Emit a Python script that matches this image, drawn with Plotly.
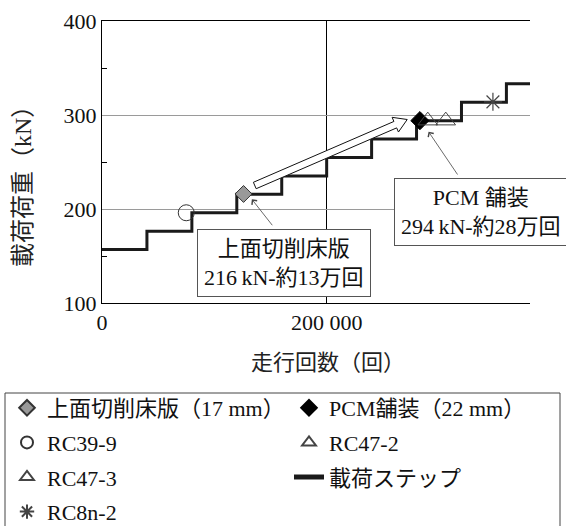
import math
import plotly.graph_objects as go

# Load steps (kN) and the pass count at which each step begins
step_start = [0, 40000, 80000, 120000, 160000, 200000, 240000, 280000, 320000, 360000]
step_load = [156.8, 176.4, 196.0, 215.6, 235.2, 254.8, 274.4, 294.0, 313.6, 333.2]
run_end = 381000

# Failure points (passes, load in kN)
cut_deck_x, cut_deck_y = [126000], [216]
pcm_x, pcm_y = [283000], [294]
rc39_x, rc39_y = [75000], [196]
rc47_2_x, rc47_2_y = [290000], [294]
rc47_3_x, rc47_3_y = [306000], [294]
rc8n_x, rc8n_y = [348000], [314]

x_tick_vals = [0, 200000]
x_tick_text = ["0", "200 000"]
y_tick_vals = [100, 200, 300, 400]
y_minor_vals = [150, 250, 350]

W, H = 566, 526
M = dict(l=102, r=36, t=21, b=223)
PW, PH = W - M["l"] - M["r"], H - M["t"] - M["b"]
x_range = [0, 381000]
y_range = [100, 400]
px_x = PW / (x_range[1] - x_range[0])
px_y = PH / (y_range[1] - y_range[0])


def paper_x(px):
    return (px - M["l"]) / PW


def paper_y(py):
    return (M["t"] + PH - py) / PH


SERIF = "Liberation Serif, Noto Sans CJK JP, serif"
FS = 22

fig = go.Figure()

# stepped load history
fig.add_trace(go.Scatter(
    x=step_start + [run_end], y=step_load + [step_load[-1]],
    mode="lines", line=dict(color="#1a1a1a", width=3, shape="hv"),
    name="載荷ステップ", legend="legend2", legendgroup="step", legendrank=3,
    hoverinfo="skip",
))

fig.add_trace(go.Scatter(
    x=cut_deck_x, y=cut_deck_y, mode="markers", name="上面切削床版（17 mm）",
    marker=dict(symbol="diamond", size=13, color="#999999", line=dict(color="#333333", width=1)),
    legend="legend", legendgroup="cut", legendrank=1,
))
fig.add_trace(go.Scatter(
    x=pcm_x, y=pcm_y, mode="markers", name="PCM舗装（22 mm）",
    marker=dict(symbol="diamond", size=14, color="#000000", line=dict(color="#000000", width=1)),
    legend="legend2", legendgroup="pcm", legendrank=1,
))
fig.add_trace(go.Scatter(
    x=rc39_x, y=rc39_y, mode="markers", name="RC39-9",
    marker=dict(symbol="circle-open", size=16, color="#333333", line=dict(width=1)),
    legend="legend", legendgroup="rc39", legendrank=2,
))
fig.add_trace(go.Scatter(
    x=rc47_2_x, y=rc47_2_y, mode="markers", name="RC47-2",
    marker=dict(symbol="triangle-up-open", size=17, color="#444444", line=dict(width=1)),
    legend="legend2", legendgroup="rc47_2", legendrank=2,
))
fig.add_trace(go.Scatter(
    x=rc47_3_x, y=rc47_3_y, mode="markers", name="RC47-3",
    marker=dict(symbol="triangle-up-open", size=17, color="#444444", line=dict(width=1)),
    legend="legend", legendgroup="rc47_3", legendrank=3,
))
fig.add_trace(go.Scatter(
    x=rc8n_x, y=rc8n_y, mode="markers", name="RC8n-2",
    marker=dict(symbol="asterisk-open", size=15, color="#444444", line=dict(width=1.2)),
    legend="legend", legendgroup="rc8n", legendrank=4,
))

# hollow block arrow showing the load gain between the two decks
tail = (136000, 225.0)
tip = (271700, 295.2)
dxp = (tip[0] - tail[0]) * px_x
dyp = (tip[1] - tail[1]) * px_y
L = math.hypot(dxp, dyp)
ux, uy = dxp / L, dyp / L
nx, ny = -uy, ux
shaft_w, head_w, head_len = 3.5, 8.0, 13.0


def pt(base, along, across):
    px = base[0] * px_x + ux * along + nx * across
    py = base[1] * px_y + uy * along + ny * across
    return px / px_x, py / px_y


poly = [
    pt(tail, 0, shaft_w),
    pt(tip, -head_len, shaft_w),
    pt(tip, -head_len, head_w),
    pt(tip, 0, 0),
    pt(tip, -head_len, -head_w),
    pt(tip, -head_len, -shaft_w),
    pt(tail, 0, -shaft_w),
]
path = "M " + " L ".join(f"{x:.1f},{y:.3f}" for x, y in poly) + " Z"
fig.add_shape(type="path", path=path, xref="x", yref="y",
              fillcolor="white", line=dict(color="#111111", width=1), layer="above")

# frame around the two-column legend
fig.add_shape(type="rect", xref="paper", yref="paper",
              x0=paper_x(5), x1=paper_x(560), y0=paper_y(393), y1=paper_y(560),
              line=dict(color="#444444", width=1), fillcolor="rgba(0,0,0,0)", layer="above")

# callout boxes
box_font = dict(family=SERIF, size=FS, color="#111111")
fig.add_annotation(
    x=162000, y=142.6, xref="x", yref="y", showarrow=False,
    text="上面切削床版<br>216\u2009kN-約13万回", font=box_font, align="center",
    bgcolor="white", bordercolor="#555555", borderwidth=1, borderpad=6,
)
fig.add_annotation(
    x=337600, y=196.8, xref="x", yref="y", showarrow=False,
    text="PCM 舗装<br>294\u2009kN-約28万回", font=box_font, align="center",
    bgcolor="white", bordercolor="#555555", borderwidth=1, borderpad=6,
)
# leader arrows from the boxes to the points
fig.add_annotation(
    x=133400, y=210.3, xref="x", yref="y", text="", showarrow=True,
    ax=21.6, ay=27.4, arrowhead=4, arrowsize=1.6, arrowwidth=0.8, arrowcolor="#444444",
)
fig.add_annotation(
    x=290700, y=282.2, xref="x", yref="y", text="", showarrow=True,
    ax=30, ay=44.3, arrowhead=4, arrowsize=1.6, arrowwidth=0.8, arrowcolor="#444444",
)

# axis titles
fig.add_annotation(
    x=paper_x(328), y=paper_y(362),
    xref="paper", yref="paper", showarrow=False, xanchor="center", yanchor="middle",
    text="走行回数（回）", font=dict(family=SERIF, size=FS, color="#222222"),
)
fig.add_annotation(
    x=paper_x(23), y=paper_y(181),
    xref="paper", yref="paper", showarrow=False, xanchor="center", yanchor="middle",
    text="載荷荷重（kN）", textangle=-90, font=dict(family=SERIF, size=24, color="#222222"),
)

legend_common = dict(
    orientation="v", xanchor="left", yanchor="top",
    borderwidth=0, bgcolor="rgba(0,0,0,0)",
    font=dict(family=SERIF, size=FS, color="#111111"),
    itemsizing="constant", traceorder="grouped", tracegroupgap=3,
)

fig.update_layout(
    width=W, height=H,
    margin=dict(l=M["l"], r=M["r"], t=M["t"], b=M["b"], autoexpand=False),
    paper_bgcolor="white", plot_bgcolor="white",
    font=dict(family=SERIF, size=FS, color="#111111"),
    showlegend=True,
    legend=dict(x=paper_x(7), y=paper_y(387), **legend_common),
    legend2=dict(x=paper_x(289), y=paper_y(387), **legend_common),
    xaxis=dict(
        range=x_range, tickvals=x_tick_vals, ticktext=x_tick_text,
        showline=True, linecolor="black", linewidth=1, mirror=True,
        showgrid=True, gridcolor="black", gridwidth=1, zeroline=False,
        ticks="",
        tickfont=dict(family=SERIF, size=FS, color="#111111"),
    ),
    yaxis=dict(
        range=y_range, tickvals=y_tick_vals, ticksuffix="\u2002",
        showline=True, linecolor="black", linewidth=1, mirror=False,
        showgrid=True, gridcolor="#9a9a9a", gridwidth=1, zeroline=False,
        ticks="",
        minor=dict(tickvals=y_minor_vals, ticks="inside", ticklen=5,
                   tickcolor="black", tickwidth=1, showgrid=False),
        tickfont=dict(family=SERIF, size=FS, color="#111111"),
    ),
)

fig.write_html("out.html")
